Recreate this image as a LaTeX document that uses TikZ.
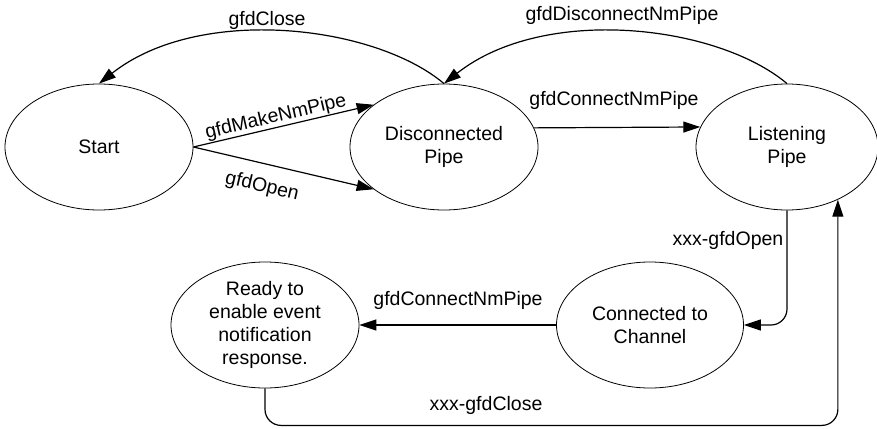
\documentclass[tikz,border=0pt]{standalone}
\usepackage{fontspec}
\setmainfont{Liberation Sans}
\usetikzlibrary{arrows.meta,shapes.geometric}
\begin{document}
\begin{tikzpicture}[x=1pt,y=-1pt,
  state/.style={ellipse, draw, line width=0.8pt, minimum width=188pt, minimum height=126pt, inner sep=0pt, align=center, font=\fontsize{19.5}{23.3}\selectfont},
  conn/.style={draw, line width=1.2pt, -{Triangle[length=17pt,width=11pt]}},
  lbl/.style={font=\fontsize{19.5}{23.3}\selectfont, inner sep=0.5pt}]
\useasboundingbox (0,0) rectangle (877,428);
\node[state] (S) at (99,147) {Start};
\node[state] (D) at (444,147) {Disconnected\\Pipe};
\node[state, minimum width=182pt] (L) at (787,147) {Listening\\Pipe};
\node[state, minimum width=187pt] (C) at (650,325) {Connected to\\Channel};
\node[state] (R) at (265,325) {Ready to\\enable event\\notification\\response.};
% labels
\node[lbl] (lClose) at (267,20) {gfdClose};
\node[lbl] (lDisc) at (622,15) {gfdDisconnectNmPipe};
\node[lbl] (lConn1) at (614,100) {gfdConnectNmPipe};
\node[lbl] (lOpen2) at (728,240) {xxx-gfdOpen};
\node[lbl] (lConn2) at (458,300) {gfdConnectNmPipe};
\node[lbl] (lClose2) at (486,405) {xxx-gfdClose};
% connectors
\draw[conn] (D.north) .. controls +(-70,-59) and +(100,-79) .. (S.north);
\draw[conn] (L.north) .. controls +(-70,-59) and +(100,-79) .. (D.north);
\draw[conn] (S.east) -- node[lbl, sloped, above, pos=0.47] (lMake) {gfdMakeNmPipe} (D.149);
\draw[conn] (S.east) -- node[lbl, sloped, below=13pt, pos=0.41] (lOpen) {gfdOpen} (D.211);
\draw[conn] (D.12.7) -- (L.167.3);
\draw[conn, rounded corners=16pt] (L.south) |- (C.east);
\draw[conn] (C.west) -- (R.east);
\draw[conn, rounded corners=16pt] (R.south) -- ++(0,37) -| (L.-46);
\end{tikzpicture}
\end{document}
